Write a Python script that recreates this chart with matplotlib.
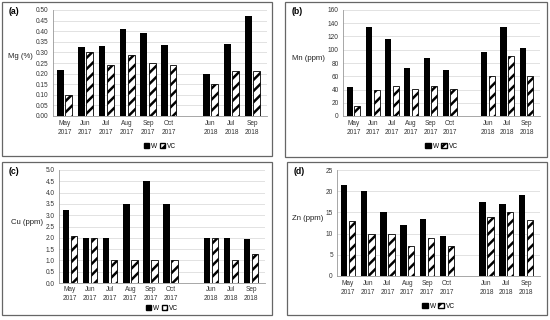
import numpy as np
import matplotlib.pyplot as plt
from matplotlib.patches import Rectangle, Patch

months = ["May\n2017", "Jun\n2017", "Jul\n2017", "Aug\n2017", "Sep\n2017", "Oct\n2017",
          "Jun\n2018", "Jul\n2018", "Sep\n2018"]
slots = [0, 1, 2, 3, 4, 5, 7, 8, 9]

mg_w = [0.215, 0.325, 0.33, 0.41, 0.39, 0.335, 0.20, 0.34, 0.47]
mg_vc = [0.10, 0.30, 0.24, 0.29, 0.25, 0.24, 0.15, 0.21, 0.21]
mn_w = [44, 135, 116, 73, 87, 70, 97, 135, 103]
mn_vc = [15, 39, 46, 41, 46, 41, 60, 90, 61]
cu_w = [3.25, 2.0, 2.0, 3.5, 4.5, 3.5, 2.0, 2.0, 1.95]
cu_vc = [2.1, 2.0, 1.0, 1.0, 1.0, 1.0, 2.0, 1.0, 1.3]
zn_w = [21.5, 20, 15, 12, 13.5, 9.5, 17.5, 17, 19]
zn_vc = [13, 10, 10, 7, 9, 7, 14, 15, 13.2]

W, H = 550, 320
plt.rcParams['font.family'] = ['Liberation Sans', 'DejaVu Sans']
plt.rcParams['hatch.linewidth'] = 1.8
fig = plt.figure(figsize=(5.5, 3.2), dpi=100)


def px(l, t, r, b):
    return [l / W, 1 - b / H, (r - l) / W, (b - t) / H]


def panel(box, axbox, w, vc, ymax, step, fmt, ylab, tag, legy, ylabpos, pad=3):
    fig.patches.append(Rectangle((box[0] / W, 1 - box[3] / H), (box[2] - box[0]) / W,
                                 (box[3] - box[1]) / H, transform=fig.transFigure,
                                 fill=False, edgecolor='#666666', lw=0.9))
    ax = fig.add_axes(px(*axbox))
    x = np.array(slots)
    ax.bar(x - 0.2, w, 0.32, color='black', zorder=3)
    ax.bar(x + 0.2, vc, 0.32, facecolor='white', edgecolor='black', hatch='///',
           lw=0.6, zorder=3)
    ax.set_xlim(-0.55, 9.7)
    ax.set_ylim(0, ymax)
    ticks = np.arange(0, ymax + step / 2, step)
    ax.set_yticks(ticks)
    ax.set_yticklabels([fmt.format(t) for t in ticks], fontsize=4.7, color='#333333')
    ax.set_xticks(slots)
    ax.set_xticklabels(months, fontsize=4.7, linespacing=1.4, color='#333333')
    ax.tick_params(axis='y', length=0, pad=3)
    ax.tick_params(axis='x', length=0, pad=pad)
    ax.grid(axis='y', color='#dddddd', lw=0.6, zorder=0)
    for s in ['top', 'right']:
        ax.spines[s].set_visible(False)
    ax.spines['left'].set_color('#999999')
    ax.spines['bottom'].set_color('#999999')
    ax.spines['left'].set_linewidth(0.6)
    ax.spines['bottom'].set_linewidth(0.6)
    fig.text(ylabpos[0] / W, 1 - ylabpos[1] / H, ylab, fontsize=5.6,
             ha='right', va='center', color='#222222')
    fig.text((box[0] + 7) / W, 1 - (box[1] + 10) / H, tag, fontsize=6.3,
             fontweight='bold', ha='left', va='center')
    handles = [Patch(facecolor='black', edgecolor='black'),
               Patch(facecolor='white', edgecolor='black', hatch='///')]
    fig.legend(handles, ['W', 'VC'], loc='center', ncol=2, frameon=False,
               bbox_to_anchor=((axbox[0] + axbox[2]) / 2 / W, 1 - legy / H),
               fontsize=4.7, handlelength=0.8, handleheight=0.8, handletextpad=0.3,
               columnspacing=0.4, borderpad=0.1)
    return ax


panel((2, 2, 272, 156), (53, 10, 267, 116), mg_w, mg_vc, 0.5, 0.05, "{:.2f}",
      "Mg (%)", "(a)", 146, (33, 57))
panel((285, 2, 547, 157), (343, 10, 540, 116), mn_w, mn_vc, 160, 20, "{:.0f}",
      "Mn (ppm)", "(b)", 146, (325, 59))
panel((2, 162, 272, 315), (59, 170, 265, 283), cu_w, cu_vc, 5.0, 0.5, "{:.1f}",
      "Cu (ppm)", "(c)", 308, (43, 222), pad=2)
panel((287, 162, 547, 315), (337, 170, 540, 276), zn_w, zn_vc, 25, 5, "{:.0f}",
      "Zn (ppm)", "(d)", 306, (323, 219))

fig.savefig("out.png", dpi=100)
